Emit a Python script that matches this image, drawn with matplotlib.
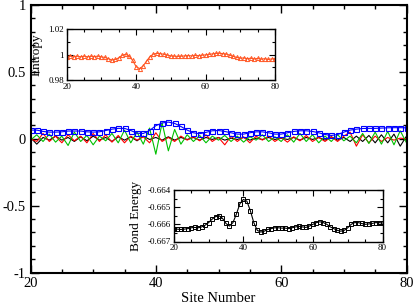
import matplotlib
matplotlib.use("Agg")
import matplotlib.pyplot as plt
from matplotlib.ticker import MultipleLocator

plt.rcParams['font.family'] = ['Liberation Serif', 'DejaVu Serif']

sites = list(range(20, 81))

blue = [0.065, 0.065, 0.055, 0.050, 0.050, 0.052, 0.058, 0.058, 0.058, 0.052,
        0.050, 0.052, 0.062, 0.072, 0.078, 0.078, 0.062, 0.042, 0.040, 0.062,
        0.098, 0.118, 0.125, 0.115, 0.092, 0.065, 0.045, 0.038, 0.048, 0.060,
        0.062, 0.055, 0.045, 0.035, 0.035, 0.045, 0.052, 0.052, 0.045, 0.035,
        0.035, 0.045, 0.055, 0.060, 0.060, 0.055, 0.045, 0.032, 0.025, 0.032,
        0.050, 0.065, 0.072, 0.077, 0.078, 0.078, 0.080, 0.082, 0.083, 0.083,
        0.082]

black = [0.010, -0.040, 0.010, -0.010, 0.020, -0.010, 0.010, -0.020, 0.015, -0.015,
         0.020, -0.010, 0.010, -0.020, 0.015, -0.010, 0.015, -0.015, 0.020, -0.005,
         0.010, -0.010, 0.015, -0.010, 0.010, -0.005, 0.010, -0.010, 0.010, -0.005,
         0.010, -0.010, 0.005, -0.005, 0.010, -0.010, 0.005, -0.005, 0.010, -0.005,
         0.005, -0.005, 0.010, -0.010, 0.010, -0.005, 0.010, -0.010, 0.015, -0.010,
         0.010, -0.020, 0.020, -0.020, 0.025, -0.030, 0.030, -0.030, 0.035, -0.055,
         0.020]

red = [0.000, -0.020, 0.040, -0.020, 0.020, -0.030, 0.030, -0.015, 0.020, -0.030,
       0.040, -0.020, 0.030, -0.025, 0.025, -0.030, 0.020, -0.010, 0.015, -0.030,
       0.045, -0.020, 0.010, -0.020, 0.020, -0.010, 0.015, -0.015, 0.030, -0.020,
       0.010, -0.045, 0.020, -0.020, 0.015, -0.030, 0.020, -0.010, 0.020, -0.020,
       0.010, -0.025, 0.015, -0.015, 0.025, -0.020, 0.010, -0.020, 0.015, -0.020,
       0.020, 0.050, -0.055, 0.030, -0.030, 0.020, -0.020, 0.010, -0.010, 0.005,
       0.000]

green = [-0.010, 0.030, -0.020, 0.035, -0.025, 0.020, -0.050, 0.050, -0.020, 0.025,
         -0.045, 0.020, -0.015, 0.040, -0.030, 0.065, -0.030, 0.050, -0.040, 0.080,
         -0.115, 0.120, -0.090, 0.070, -0.040, 0.030, -0.020, 0.025, -0.030, 0.020,
         -0.010, 0.025, -0.020, 0.020, -0.025, 0.015, -0.010, 0.030, -0.020, 0.015,
         -0.020, 0.030, -0.025, 0.040, -0.020, 0.030, -0.030, 0.020, -0.020, 0.030,
         -0.015, 0.020, -0.030, 0.040, -0.035, 0.050, -0.040, 0.055, -0.045, 0.060,
         -0.030]

entropy = [0.9984, 0.9988, 0.9983, 0.9988, 0.9983, 0.9988, 0.9983, 0.9987, 0.9985, 0.9988,
           0.9982, 0.9978, 0.9968, 0.9958, 0.9962, 0.9975, 0.9995, 1.0003, 0.9988, 0.9955,
           0.9905, 0.9890, 0.9910, 0.9950, 0.9985, 1.0005, 1.0010, 1.0008, 1.0003, 0.9996,
           0.9990, 0.9988, 0.9986, 0.9988, 0.9990, 0.9993, 0.9990, 0.9994, 0.9992, 0.9996,
           0.9998, 1.0002, 1.0006, 1.0010, 1.0011, 1.0008, 1.0004, 0.9996, 0.9986, 0.9978,
           0.9972, 0.9974, 0.9968, 0.9972, 0.9966, 0.9970, 0.9964, 0.9968, 0.9962, 0.9966,
           0.9968]

bond = [-0.66625, -0.66628, -0.66630, -0.66628, -0.66625, -0.66620, -0.66618, -0.66620, -0.66615, -0.66605,
        -0.66590, -0.66570, -0.66555, -0.66550, -0.66565, -0.66595, -0.66610, -0.66590, -0.66540, -0.66480,
        -0.66455, -0.66465, -0.66520, -0.66590, -0.66635, -0.66645, -0.66640, -0.66630, -0.66625, -0.66620,
        -0.66620, -0.66622, -0.66622, -0.66625, -0.66620, -0.66615, -0.66612, -0.66615, -0.66618, -0.66610,
        -0.66600, -0.66590, -0.66585, -0.66590, -0.66600, -0.66615, -0.66625, -0.66635, -0.66640, -0.66635,
        -0.66620, -0.66600, -0.66590, -0.66590, -0.66595, -0.66600, -0.66598, -0.66595, -0.66590, -0.66590,
        -0.66592]

W, H = 415, 308
fig = plt.figure(figsize=(W / 100, H / 100), dpi=100)

def rect(l, t, r, b):
    return [l / W, 1 - b / H, (r - l) / W, (b - t) / H]

ax = fig.add_axes(rect(30.5, 5, 406.5, 272.6))
ax.plot(sites, black, color='black', lw=0.8)
ax.plot(sites, red, color='#ff0000', lw=0.8)
ax.plot(sites, green, color='#00c000', lw=0.8)
ax.plot(sites, blue, color='#0000ff', lw=0.8, marker='s', ms=3.6,
        mfc='none', mec='#0000ff', mew=0.8)
ax.set_xlim(20, 80)
ax.set_ylim(-1, 1)
ax.xaxis.set_major_locator(MultipleLocator(20))
ax.xaxis.set_minor_locator(MultipleLocator(5))
ax.yaxis.set_minor_locator(MultipleLocator(0.1))
ax.set_yticks([-1, -0.5, 0, 0.5, 1])
ax.set_yticklabels(['-1', '-0.5', '0', '0.5', '1'])
ax.tick_params(which='both', direction='in', top=True, right=True, labelsize=10.5, width=1.0)
ax.tick_params(which='major', length=6)
ax.tick_params(which='minor', length=3)
for s in ax.spines.values():
    s.set_linewidth(1.5)
ax.set_xlabel('Site Number', fontsize=10.5, labelpad=1)

# inset 1: entropy
ax1 = fig.add_axes(rect(66.7, 29.3, 275, 80))
ax1.plot(sites, entropy, color='#ff5522', lw=0.8, marker='^', ms=3.0,
         mfc='none', mec='#ff5522', mew=0.7)
ax1.set_xlim(20, 80)
ax1.set_ylim(0.98, 1.02)
ax1.set_xticks([20, 40, 60, 80])
ax1.xaxis.set_minor_locator(MultipleLocator(5))
ax1.set_yticks([0.98, 1.0, 1.02])
ax1.set_yticklabels(['0.98', '1', '1.02'])
ax1.yaxis.set_minor_locator(MultipleLocator(0.01))
ax1.tick_params(which='both', direction='in', top=True, right=True, labelsize=6.5, width=0.8, pad=2)
ax1.tick_params(which='major', length=4)
ax1.tick_params(which='minor', length=2)
for s in ax1.spines.values():
    s.set_linewidth(1.0)
ax1.set_ylabel('Entropy', fontsize=9.5, labelpad=4)

# inset 2: bond energy
ax2 = fig.add_axes(rect(173.8, 190, 382.5, 241.5))
ax2.plot(sites, bond, color='black', lw=0.8, marker='s', ms=3.0,
         mfc='none', mec='black', mew=0.7)
ax2.set_xlim(20, 80)
ax2.set_ylim(-0.667, -0.664)
ax2.set_xticks([20, 40, 60, 80])
ax2.xaxis.set_minor_locator(MultipleLocator(5))
ax2.set_yticks([-0.667, -0.666, -0.665, -0.664])
ax2.set_yticklabels(['-0.667', '-0.666', '-0.665', '-0.664'])
ax2.yaxis.set_minor_locator(MultipleLocator(0.0005))
ax2.tick_params(which='both', direction='in', top=True, right=True, labelsize=6.5, width=0.8, pad=2)
ax2.tick_params(which='major', length=4)
ax2.tick_params(which='minor', length=2)
for s in ax2.spines.values():
    s.set_linewidth(1.0)
ax2.set_ylabel('Bond Energy', fontsize=9.5, labelpad=4)

fig.savefig('out.png', dpi=100)
